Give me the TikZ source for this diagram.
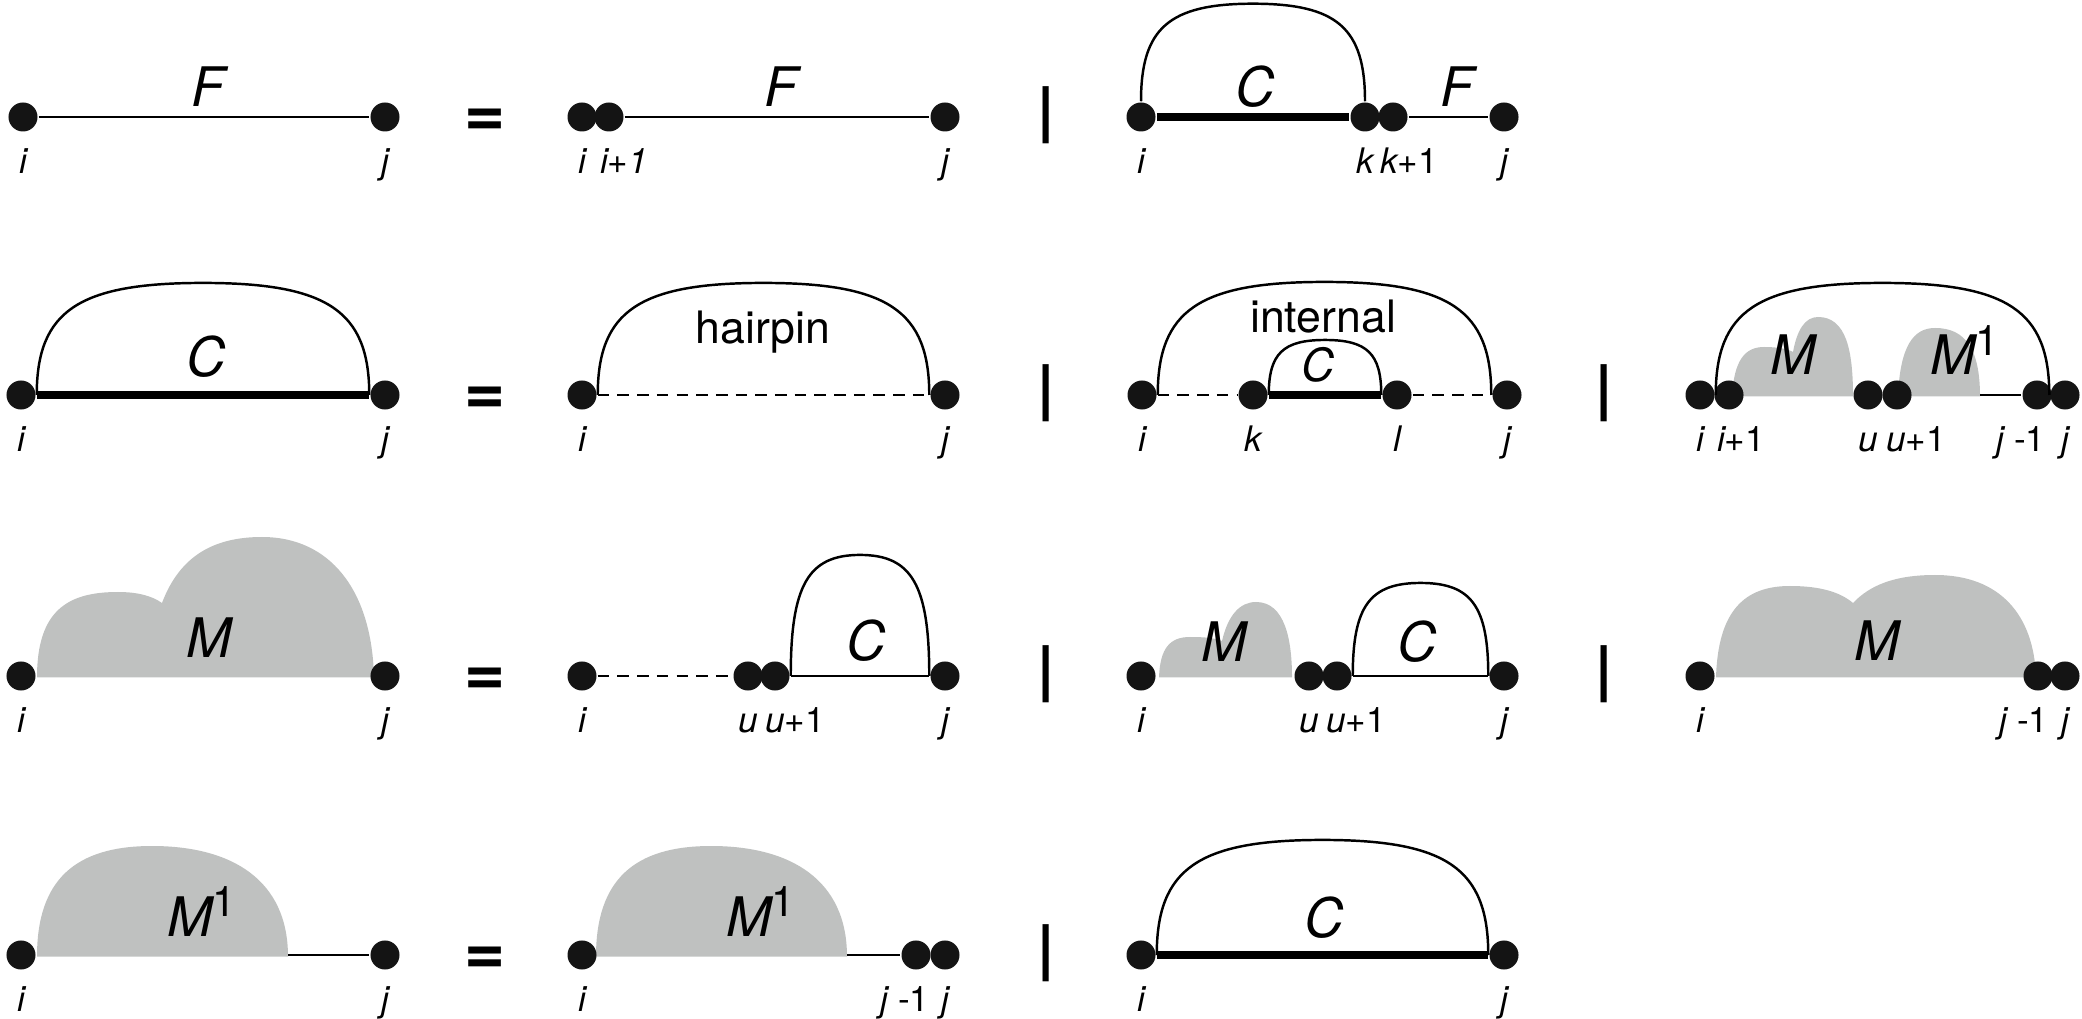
\documentclass[tikz,border=0pt]{standalone}
\usepackage{fontspec}
\setmainfont{TeX Gyre Heros}
\usepackage{tikz}
\usetikzlibrary{calc}
\definecolor{ink}{HTML}{141414}
\definecolor{shade}{HTML}{BFC1C0}
\newcommand{\Mone}{M\raisebox{5.5pt}{\fontsize{12}{12}\selectfont\upshape 1}}

\begin{document}
\begin{tikzpicture}[x=0.01cm, y=0.01cm, line width=0.7pt,
    dot/.style={circle, fill=ink, inner sep=0pt, minimum size=0.29cm},
    every label/.style={font=\fontsize{10}{11}\selectfont, inner sep=0pt, text height=7.2pt, text depth=2pt},
    label distance=4pt,
    sym/.style={font=\fontsize{15.5}{16}\selectfont\itshape, inner sep=0pt, anchor=base},
    word/.style={font=\fontsize{12.7}{14}\selectfont, inner sep=0pt},
    eqs/.style={font=\fontsize{20}{20}\selectfont\bfseries, inner sep=0pt},
    alt/.style={font=\fontsize{17.5}{18}\selectfont\bfseries, inner sep=0pt},
    bond/.style={line width=2.3pt},
    unpaired/.style={dash pattern=on 3.3pt off 2.3pt},
    blob/.style={fill=shade, draw=none},
    hump/.style={to path={let \p1=(\tikztostart), \p2=(\tikztotarget) in
        .. controls (\x1,{\y1+0.75*#1}) and ({\x1+0.125*(\x2-\x1)},{\y1+#1}) .. ({0.5*(\x1+\x2)},{\y1+#1})
        .. controls ({\x2-0.125*(\x2-\x1)},{\y1+#1}) and (\x2,{\y2+0.75*(\y1+#1-\y2)}) .. (\tikztotarget)}},
]
    \useasboundingbox (0,0) rectangle (2082,-1019);

    % shaded multiloop parts
    \fill[blob] (1732,-396.5) .. controls (1734,-360) and (1745,-347) .. (1764,-347)
        .. controls (1778,-347) and (1788,-349) .. (1793,-352)
        .. controls (1797,-330) and (1805,-317) .. (1818,-317)
        .. controls (1846,-317) and (1853,-350) .. (1853,-396.5) -- cycle;
    \fill[blob] (1898,-396.5) .. controls (1900,-345) and (1914,-328) .. (1935,-328)
        .. controls (1966,-328) and (1980,-350) .. (1980,-396.5) -- cycle;
    \fill[blob] (37,-677.5) .. controls (37,-610) and (68,-592) .. (118,-592)
        .. controls (138,-592) and (152,-596) .. (162,-603)
        .. controls (180,-555) and (215,-537) .. (262,-537)
        .. controls (330,-537) and (372,-590) .. (374,-677.5) -- cycle;
    \fill[blob] (1159,-677.5) .. controls (1160,-648) and (1170,-637) .. (1190,-637)
        .. controls (1205,-637) and (1215,-638) .. (1222,-641)
        .. controls (1228,-615) and (1240,-602) .. (1256,-602)
        .. controls (1285,-602) and (1292,-640) .. (1292,-677.5) -- cycle;
    \fill[blob] (1716,-677.5) .. controls (1718,-610) and (1745,-586) .. (1790,-586)
        .. controls (1820,-586) and (1840,-592) .. (1853,-603)
        .. controls (1870,-585) and (1895,-575) .. (1935,-575)
        .. controls (2000,-575) and (2034,-615) .. (2036,-677.5) -- cycle;
    \fill[blob] (37,-956.5) .. controls (37,-880) and (75,-846) .. (152,-846)
        .. controls (232,-846) and (288,-880) .. (288,-956.5) -- cycle;
    \fill[blob] (596,-956.5) .. controls (596,-880) and (634,-846) .. (711,-846)
        .. controls (791,-846) and (847,-880) .. (847,-956.5) -- cycle;

    % row 1: F
    \node[dot, label=below:{\itshape i}] (r1ai) at (23,-117) {};
    \node[dot, label=below:{\itshape j}] (r1aj) at (385,-117) {};
    \node[sym] (r1aF) at (208,-107) {F};
    \node[eqs] (eq1) at (485,-123) {=};
    \node[dot, label=below:{\itshape i}] (r1bi) at (582,-117) {};
    \node[dot, label={[xshift=0.15cm]below:{\itshape i+1}}] (r1bi1) at (609,-117) {};
    \node[dot, label=below:{\itshape j}] (r1bj) at (945,-117) {};
    \node[sym] (r1bF) at (781,-107) {F};
    \node[alt] (or1) at (1046,-115.5) {|};
    \node[dot, label=below:{\itshape i}] (r1ci) at (1141,-117) {};
    \node[dot, label=below:{\itshape k}] (r1ck) at (1365,-117) {};
    \node[dot, label={[xshift=0.16cm]below:{\itshape k}+1}] (r1ck1) at (1393,-117) {};
    \node[dot, label=below:{\itshape j}] (r1cj) at (1504,-117) {};
    \node[sym] (r1cC) at (1255,-107) {C};
    \node[sym] (r1cF) at (1457,-107) {F};

    \draw (r1ai) -- (r1aj);
    \draw (r1bi1) -- (r1bj);
    \draw[bond] (r1ci) -- (r1ck);
    \draw (r1ck1) -- (r1cj);
    \draw (r1ci.north) to[hump=0.975cm] (r1ck.north);

    % row 2: C
    \node[dot, label=below:{\itshape i}] (r2ai) at (21,-395) {};
    \node[dot, label=below:{\itshape j}] (r2aj) at (385,-395) {};
    \node[sym] (r2aC) at (206,-377) {C};
    \node[eqs] (eq2) at (485,-401) {=};
    \node[dot, label=below:{\itshape i}] (r2bi) at (582,-395) {};
    \node[dot, label=below:{\itshape j}] (r2bj) at (945,-395) {};
    \node[word] (hairpin) at (763,-332) {hairpin};
    \node[alt] (or2a) at (1046,-393.5) {|};
    \node[dot, label=below:{\itshape i}] (r2ci) at (1142,-395) {};
    \node[dot, label=below:{\itshape k}] (r2ck) at (1253,-395) {};
    \node[dot, label=below:{\itshape l}] (r2cl) at (1397,-395) {};
    \node[dot, label=below:{\itshape j}] (r2cj) at (1507,-395) {};
    \node[word] (internal) at (1323,-317) {internal};
    \node[sym, font=\fontsize{13}{14}\selectfont\itshape] (r2cC) at (1318,-382) {C};
    \node[alt] (or2b) at (1604,-393.5) {|};
    \node[dot, label=below:{\itshape i}] (r2di) at (1700,-395) {};
    \node[dot, label={[xshift=0.12cm]below:{\itshape i}+1}] (r2di1) at (1729,-395) {};
    \node[dot, label=below:{\itshape u}] (r2du) at (1868,-395) {};
    \node[dot, label={[xshift=0.19cm]below:{\itshape u}+1}] (r2du1) at (1897,-395) {};
    \node[dot, label={[xshift=-0.16cm]below:{\itshape j} -1}] (r2dj1) at (2037,-395) {};
    \node[dot, label=below:{\itshape j}] (r2dj) at (2065,-395) {};
    \node[sym] (r2dM) at (1793,-375) {M};
    \node[sym] (r2dM1) at (1965,-375) {\Mone};
    \coordinate (r2dend) at (1980,-395);

    \draw[bond] (r2ai) -- (r2aj);
    \draw (r2ai.east) to[hump=1.12cm] (r2aj.west);
    \draw[unpaired] (r2bi) -- (r2bj);
    \draw (r2bi.east) to[hump=1.12cm] (r2bj.west);
    \draw[unpaired] (r2ci) -- (r2ck);
    \draw[bond] (r2ck) -- (r2cl);
    \draw[unpaired] (r2cl) -- (r2cj);
    \draw (r2ci.east) to[hump=1.13cm] (r2cj.west);
    \draw (r2ck.east) to[hump=0.55cm] (r2cl.west);
    \draw (r2dend) -- (r2dj1);
    \draw (r2di.east) to[hump=1.12cm] (r2dj.west);

    % row 3: M
    \node[dot, label=below:{\itshape i}] (r3ai) at (21,-676) {};
    \node[dot, label=below:{\itshape j}] (r3aj) at (385,-676) {};
    \node[sym] (r3aM) at (209,-657) {M};
    \node[eqs] (eq3) at (485,-682) {=};
    \node[dot, label=below:{\itshape i}] (r3bi) at (582,-676) {};
    \node[dot, label=below:{\itshape u}] (r3bu) at (748,-676) {};
    \node[dot, label={[xshift=0.2cm]below:{\itshape u}+1}] (r3bu1) at (775,-676) {};
    \node[dot, label=below:{\itshape j}] (r3bj) at (945,-676) {};
    \node[sym] (r3bC) at (866,-661) {C};
    \node[alt] (or3a) at (1046,-674.5) {|};
    \node[dot, label=below:{\itshape i}] (r3ci) at (1141,-676) {};
    \node[dot, label=below:{\itshape u}] (r3cu) at (1309,-676) {};
    \node[dot, label={[xshift=0.19cm]below:{\itshape u}+1}] (r3cu1) at (1337,-676) {};
    \node[dot, label=below:{\itshape j}] (r3cj) at (1504,-676) {};
    \node[sym] (r3cM) at (1224,-662) {M};
    \node[sym] (r3cC) at (1417,-662) {C};
    \node[alt] (or3b) at (1604,-674.5) {|};
    \node[dot, label=below:{\itshape i}] (r3di) at (1700,-676) {};
    \node[dot, label={[xshift=-0.14cm]below:{\itshape j} -1}] (r3dj1) at (2038,-676) {};
    \node[dot, label=below:{\itshape j}] (r3dj) at (2065,-676) {};
    \node[sym] (r3dM) at (1877,-660) {M};

    \draw[unpaired] (r3bi) -- (r3bu);
    \draw (r3bu1) -- (r3bj);
    \draw (r3bu1.east) to[hump=1.21cm] (r3bj.west);
    \draw (r3cu1) -- (r3cj);
    \draw (r3cu1.east) to[hump=0.93cm] (r3cj.west);

    % row 4: M1
    \node[dot, label=below:{\itshape i}] (r4ai) at (21,-955) {};
    \node[dot, label=below:{\itshape j}] (r4aj) at (385,-955) {};
    \node[sym] (r4aM1) at (202,-936) {\Mone};
    \coordinate (r4aend) at (288,-955);
    \node[eqs] (eq4) at (485,-961) {=};
    \node[dot, label=below:{\itshape i}] (r4bi) at (582,-955) {};
    \node[dot, label={[xshift=-0.11cm]below:{\itshape j} -1}] (r4bj1) at (916,-955) {};
    \node[dot, label=below:{\itshape j}] (r4bj) at (945,-955) {};
    \node[sym] (r4bM1) at (761,-936) {\Mone};
    \coordinate (r4bend) at (847,-955);
    \node[alt] (or4) at (1046,-953.5) {|};
    \node[dot, label=below:{\itshape i}] (r4ci) at (1141,-955) {};
    \node[dot, label=below:{\itshape j}] (r4cj) at (1504,-955) {};
    \node[sym] (r4cC) at (1324,-937) {C};

    \draw (r4aend) -- (r4aj);
    \draw (r4bend) -- (r4bj1);
    \draw[bond] (r4ci) -- (r4cj);
    \draw (r4ci.east) to[hump=1.15cm] (r4cj.west);
\end{tikzpicture}
\end{document}
